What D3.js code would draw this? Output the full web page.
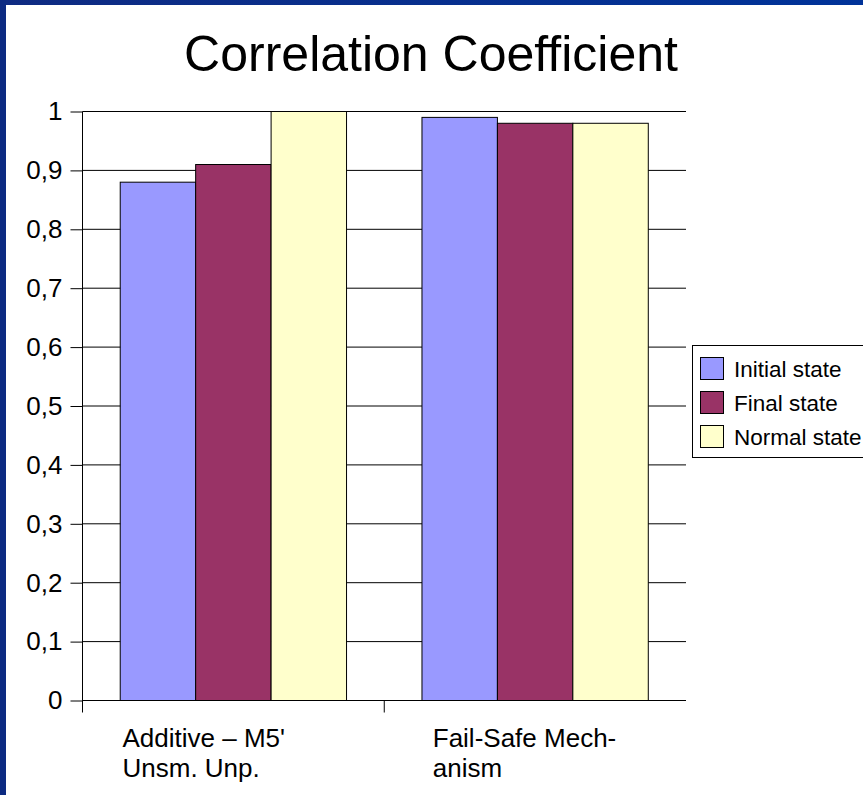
<!DOCTYPE html>
<html>
<head>
<meta charset="utf-8">
<script src="https://cdn.jsdelivr.net/npm/d3@7"></script>
<style>
html,body{margin:0;padding:0;background:#fff;overflow:hidden;}
svg{display:block;font-family:"Liberation Sans",Arial,sans-serif;}
</style>
</head>
<body>
<script>
const title = "Correlation Coefficient";
const categories = ["Additive – M5' Unsm. Unp.", "Fail-Safe Mechanism"];
const categoryLines = [["Additive – M5'", "Unsm. Unp."], ["Fail-Safe Mech-", "anism"]];
const seriesNames = ["Initial state", "Final state", "Normal state"];
const initialState = [0.88, 0.99];
const finalState = [0.91, 0.98];
const normalState = [1.0, 0.98];
const seriesColors = ["#9999ff", "#993366", "#ffffcc"];
const yTicks = [0, 0.1, 0.2, 0.3, 0.4, 0.5, 0.6, 0.7, 0.8, 0.9, 1];
const yTickLabels = ["0", "0,1", "0,2", "0,3", "0,4", "0,5", "0,6", "0,7", "0,8", "0,9", "1"];

const W = 863, H = 795;
const labelDx = [40, 48.5];

const svg = d3.select("body").append("svg").attr("width", W).attr("height", H);
const defs = svg.append("defs");
const g1 = defs.append("linearGradient").attr("id", "topg").attr("x1", 0).attr("x2", 1).attr("y1", 0).attr("y2", 0);
g1.append("stop").attr("offset", 0).attr("stop-color", "#0f2b82");
g1.append("stop").attr("offset", 1).attr("stop-color", "#003399");

svg.append("rect").attr("width", W).attr("height", H).attr("fill", "#fff");
svg.append("rect").attr("x", 0).attr("y", 0).attr("width", W).attr("height", 5).attr("fill", "url(#topg)");
svg.append("rect").attr("x", 0).attr("y", 0).attr("width", 6).attr("height", H).attr("fill", "#0c2a82");

const x0 = d3.scaleBand().domain(categories).range([82.5, 686]).paddingInner(0).paddingOuter(0);
const x1 = d3.scaleBand().domain(seriesNames).range([0, x0.bandwidth()]).paddingOuter(0.5).paddingInner(0);
const y = d3.scaleLinear().domain([0, 1]).range([700.5, 111.5]);

// gridlines + y ticks
const yAxis = d3.axisLeft(y).tickValues(yTicks).tickSize(12).tickFormat((d, i) => yTickLabels[i]);
const ya = svg.append("g").attr("transform", "translate(82.5,0)").call(yAxis);
ya.select(".domain").remove();
ya.selectAll(".tick line").attr("stroke", "#000");
ya.selectAll(".tick text").attr("x", -20).attr("font-size", 26).attr("fill", "#000")
  .attr("font-family", "Liberation Sans, Arial, sans-serif");
svg.append("g").selectAll("line").data(yTicks).join("line")
  .attr("x1", 82.5).attr("x2", 686).attr("y1", d => y(d)).attr("y2", d => y(d))
  .attr("stroke", "#000").attr("stroke-width", 1);

// bars
const series = [initialState, finalState, normalState];
const data = categories.map((c, i) => ({c, vals: seriesNames.map((s, j) => ({s, v: series[j][i], color: seriesColors[j]}))}));
const groups = svg.append("g").selectAll("g").data(data).join("g")
  .attr("transform", d => `translate(${x0(d.c)},0)`);
groups.selectAll("rect").data(d => d.vals).join("rect")
  .attr("x", d => x1(d.s)).attr("width", x1.bandwidth())
  .attr("y", d => y(d.v)).attr("height", d => y(0) - y(d.v))
  .attr("fill", d => d.color).attr("stroke", "#000").attr("stroke-width", 1);

// axes lines
svg.append("line").attr("x1", 82.5).attr("x2", 82.5).attr("y1", y(1)).attr("y2", y(0) + 12).attr("stroke", "#000");
svg.append("line").attr("x1", 82.5).attr("x2", 686).attr("y1", y(0)).attr("y2", y(0)).attr("stroke", "#000");
svg.append("line").attr("x1", x0(categories[1])).attr("x2", x0(categories[1])).attr("y1", y(0)).attr("y2", y(0) + 12).attr("stroke", "#000");

// x labels
categories.forEach((c, i) => {
  const t = svg.append("text").attr("font-size", 26).attr("fill", "#000");
  categoryLines[i].forEach((ln, k) => {
    t.append("tspan").attr("x", x0(c) + labelDx[i]).attr("y", 747 + k * 30).text(ln);
  });
});

// title
svg.append("text").attr("x", 431).attr("y", 71).attr("text-anchor", "middle")
  .attr("font-size", 50).attr("fill", "#000").text(title);

// legend
const lg = svg.append("g");
lg.append("rect").attr("x", 692.5).attr("y", 345.5).attr("width", 200).attr("height", 112).attr("fill", "#fff").attr("stroke", "#000");
seriesNames.forEach((s, i) => {
  lg.append("rect").attr("x", 700.5).attr("y", 357.5 + i * 34).attr("width", 23).attr("height", 22)
    .attr("fill", seriesColors[i]).attr("stroke", "#000");
  lg.append("text").attr("x", 734).attr("y", 376.5 + i * 34).attr("font-size", 22.5).attr("fill", "#000").text(s);
});
</script>
</body>
</html>
